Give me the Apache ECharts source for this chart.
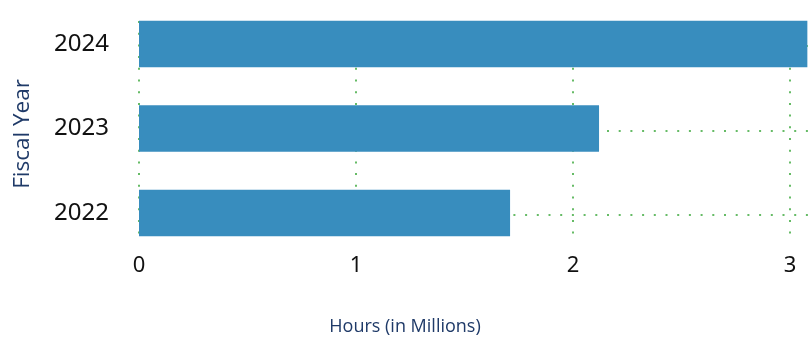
<!DOCTYPE html>
<html>
<head>
<meta charset="utf-8">
<script src="https://cdn.jsdelivr.net/npm/echarts@6/dist/echarts.min.js"></script>
<style>
  html, body { margin: 0; padding: 0; background: #ffffff; }
  #chart { width: 810px; height: 337px; }
</style>
</head>
<body>
<div id="chart"></div>
<script>
// Fiscal years (bottom to top) and total hours in millions
const years = ['2022', '2023', '2024'];
const hours = [1.71, 2.12, 3.08];
const xTicks = [0, 1, 2, 3, 4];

const gridGreen = '#66bb66';
const dots = [2, 9.7];
const navy = '#1f3a68';
const plotLeft = 139;
const plotWidth = 868;   // plot runs past the right edge of the page

const chart = echarts.init(document.getElementById('chart'));

const gridBase = { left: plotLeft, width: plotWidth, outerBoundsMode: 'none', containLabel: false };

chart.setOption({
  animation: false,
  title: {
    text: 'Hours (in Millions)',
    left: 'center',
    top: 313,
    textStyle: { fontFamily: 'Open Sans', fontSize: 18, fontWeight: 'normal', color: navy }
  },
  graphic: [{
    type: 'text',
    x: 23,
    y: 134,
    rotation: Math.PI / 2,
    style: {
      text: 'Fiscal Year',
      fontFamily: 'Open Sans',
      fontSize: 22.5,
      fill: navy,
      align: 'center',
      verticalAlign: 'middle'
    }
  }],
  grid: [
    // bars and year labels
    Object.assign({ top: 1.75, height: 253.5 }, gridBase),
    // vertical guide lines and hour ticks
    Object.assign({ top: 21, height: 216 }, gridBase),
    // horizontal guide lines through each year
    Object.assign({ top: 45.9, height: 168.8 }, gridBase)
  ],
  xAxis: [
    { gridIndex: 0, type: 'value', min: xTicks[0], max: xTicks[xTicks.length - 1], show: false },
    {
      gridIndex: 1, type: 'value', min: xTicks[0], max: xTicks[xTicks.length - 1], interval: 1,
      axisLine: { show: false }, axisTick: { show: false },
      axisLabel: { margin: 18, fontFamily: 'Noto Sans', fontSize: 22, color: '#111111' },
      splitLine: { show: true, lineStyle: { color: gridGreen, width: 2, type: dots } }
    },
    { gridIndex: 2, type: 'value', min: xTicks[0], max: xTicks[xTicks.length - 1], show: false }
  ],
  yAxis: [
    {
      gridIndex: 0, type: 'category', data: years, boundaryGap: true,
      axisLine: { show: false }, axisTick: { show: false },
      axisLabel: { margin: 30, padding: [4, 0, 0, 0], fontFamily: 'Noto Sans', fontSize: 24, color: '#111111' },
      splitLine: { show: false }
    },
    { gridIndex: 1, type: 'value', min: 0, max: 1, show: false },
    {
      gridIndex: 2, type: 'category', data: years, boundaryGap: false,
      axisLine: { show: false }, axisTick: { show: false }, axisLabel: { show: false },
      splitLine: { show: true, lineStyle: { color: gridGreen, width: 2, type: dots } }
    }
  ],
  series: [{
    type: 'bar',
    xAxisIndex: 0,
    yAxisIndex: 0,
    data: hours,
    barWidth: 46.5,
    z: 5,
    itemStyle: { color: '#388dbe' }
  }]
});
</script>
</body>
</html>
